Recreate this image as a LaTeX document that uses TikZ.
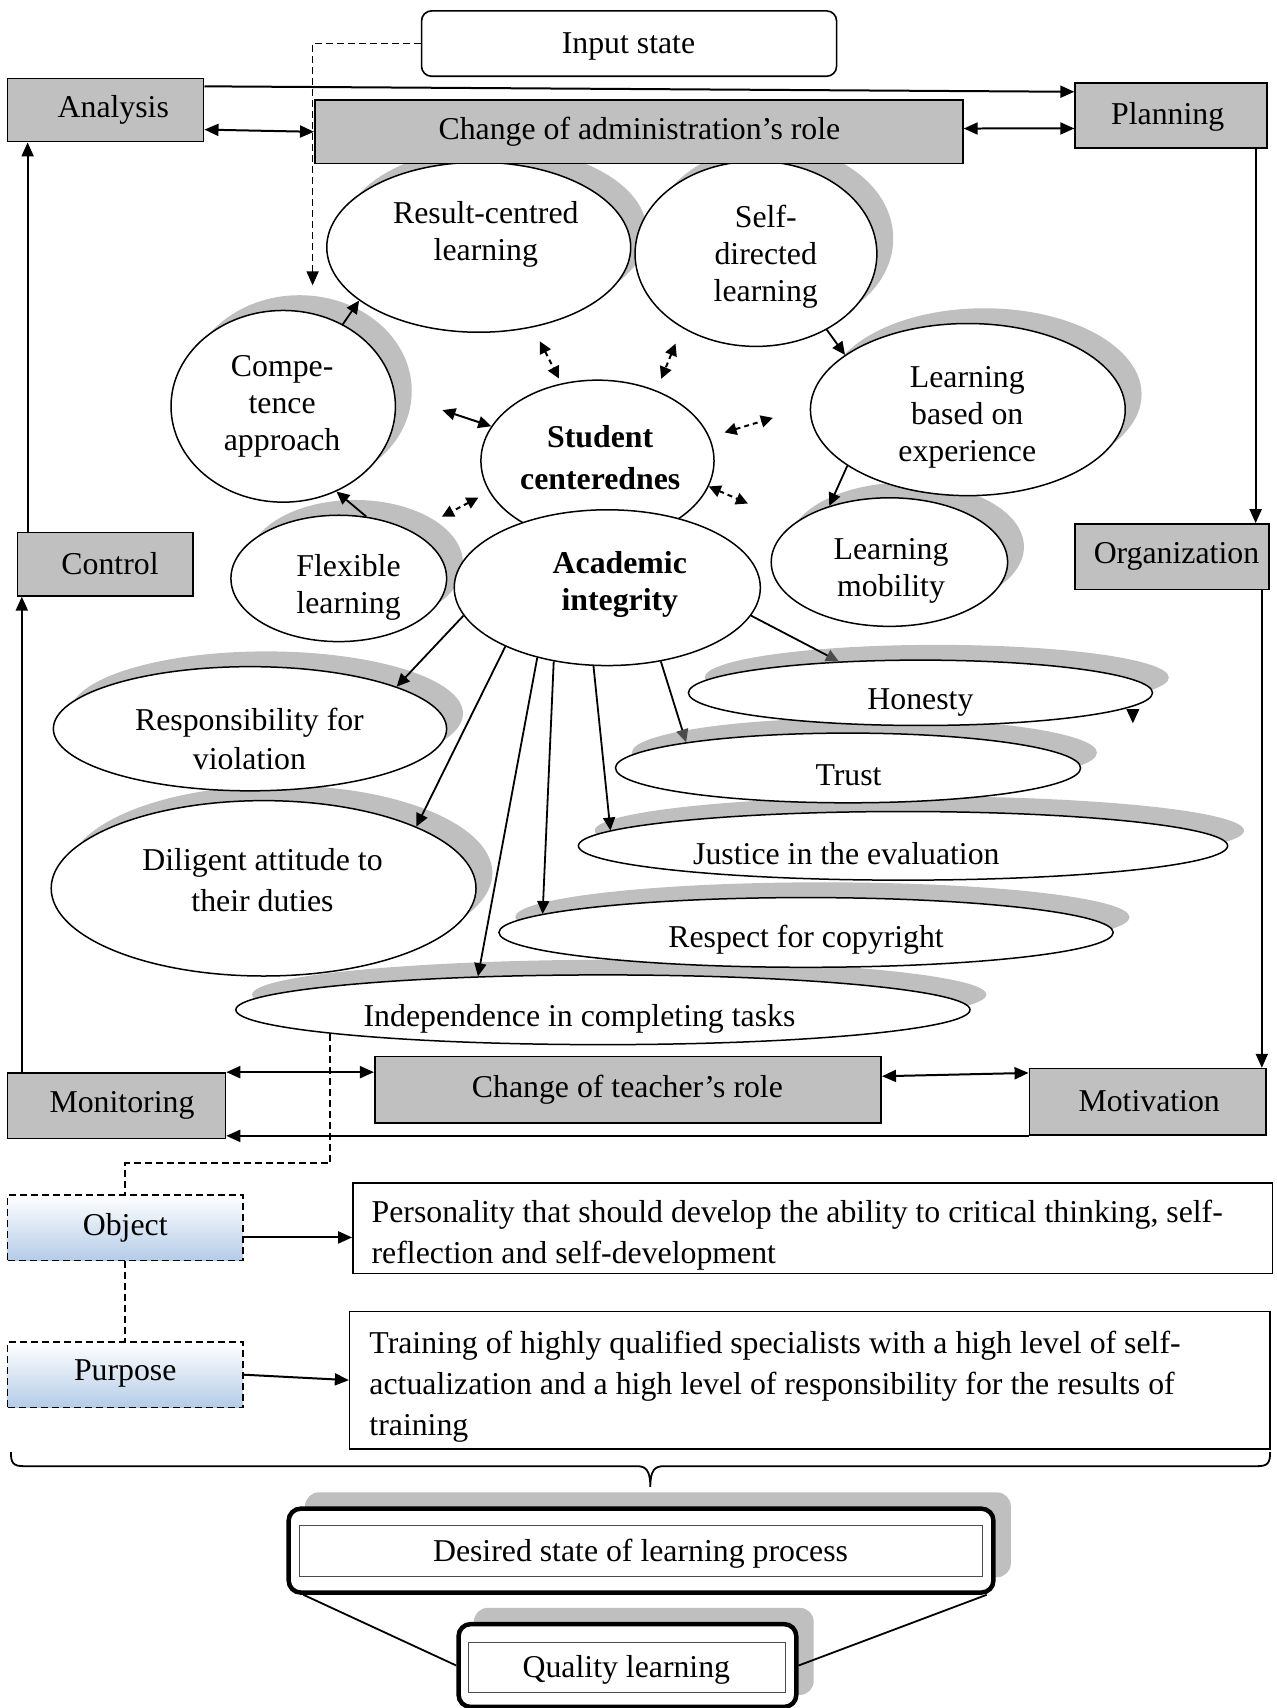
\documentclass[tikz,border=0pt]{standalone}
\usepackage{fontspec}
\setmainfont{Liberation Serif}
\usetikzlibrary{arrows.meta,shapes.geometric,fit}
\definecolor{boxgray}{HTML}{C0C0C0}
\definecolor{shgray}{HTML}{BFBFBF}
\definecolor{lblue}{HTML}{B4CCE8}
\begin{document}
\begin{tikzpicture}[x=1.0896pt, y=-1.0896pt, font=\fontsize{31.8}{37}\selectfont,
 gbox/.style={draw, fill=boxgray, line width=1.6pt, inner sep=0pt},
 wbox/.style={draw, fill=white, line width=1.6pt, inner sep=0pt},
 dpat/.style={dash pattern=on 7pt off 4pt},
 obox/.style={draw, dpat, line width=1.5pt, top color=white, bottom color=lblue, inner sep=0pt},
 ell/.style 2 args={ellipse, draw, fill=white, line width=1.5pt, inner sep=0pt, minimum width={#1*1.0896pt}, minimum height={#2*1.0896pt}},
 shd/.style 2 args={ellipse, fill=shgray, inner sep=0pt, minimum width={#1*1.0896pt}, minimum height={#2*1.0896pt}},
 lbl/.style={align=center, inner sep=0pt},
 ptext/.style={align=left, inner sep=0pt, font=\fontsize{31.8}{41.4}\selectfont},
 conn/.style={line width=2pt, -{Triangle[length=14pt,width=12pt]}},
 dconn/.style={line width=2pt, {Triangle[length=14pt,width=12pt]}-{Triangle[length=14pt,width=12pt]}},
 sconn/.style={line width=1.8pt, -{Triangle[length=13pt,width=12pt]}},
 gsconn/.style={line width=1.8pt, -{Triangle[length=13pt,width=12pt,color=black!70]}},
 sdconn/.style={line width=2pt, {Triangle[length=13pt,width=12pt]}-{Triangle[length=13pt,width=12pt]}},
 ddconn/.style={line width=2pt, dash pattern=on 5pt off 4pt, {Triangle[length=12pt,width=12pt]}-{Triangle[length=12pt,width=12pt]}}
]
\useasboundingbox (0,0) rectangle (1172,1568);

% shadows of ellipses
\node[shd={279}{156}] (rcS) at (454.5,213) {};
\node[shd={222}{170}] (sdS) at (709,219) {};
\node[shd={206}{176}] (cS) at (275,359) {};
\node[shd={289}{158}] (leS) at (903.5,362) {};
\node[shd={198}{116}] (fS) at (326,517) {};
\node[shd={217}{118}] (lmS) at (831.5,502) {};
\node[shd={426}{60}] (hS) at (860,622) {};
\node[shd={427}{64}] (tS) at (793.5,691) {};
\node[shd={596}{63}] (jS) at (844,762.5) {};
\node[shd={564}{64}] (rsS) at (755,842) {};
\node[shd={674}{64}] (iS) at (568.5,913) {};
\node[shd={361}{114}] (rS) at (244.5,655) {};
\node[shd={390}{161}] (dS) at (257,801.5) {};

% ellipses
\node[ell={279}{156}] (rc) at (439.5,227) {};
\node[ell={222}{170}] (sd) at (694,233) {};
\node[ell={206}{176}] (comp) at (260,373) {};
\node[ell={289}{158}] (le) at (888.5,376) {};
\node[ell={214}{148}] (stud) at (548.5,423) {};
\node[ell={198}{116}] (flex) at (311,531) {};
\node[ell={281}{143}] (acad) at (557.5,539.5) {};
\node[ell={217}{118}] (lm) at (816.5,516) {};
\node[ell={426}{60}] (hon) at (845,636) {};
\node[ell={427}{64}] (trust) at (778.5,705) {};
\node[ell={596}{63}] (just) at (829,776.5) {};
\node[ell={564}{64}] (resp) at (740,856) {};
\node[ell={674}{64}] (indep) at (553.5,927) {};
\node[ell={361}{114}] (respv) at (229.5,669) {};
\node[ell={390}{161}] (dil) at (242,815.5) {};

% ellipse texts
\node[lbl] (rct) at (446,215) {Result-centred\\learning};
\node[lbl] (sdt) at (703,236) {Self-\\directed\\learning};
\node[lbl] (compt) at (259,373) {Compe-\\tence\\approach};
\node[lbl] (let) at (888,383) {Learning\\based on\\experience};
\node[lbl, font=\bfseries\fontsize{31.8}{42.5}\selectfont] (studt) at (551,420) {Student\\centerednes};
\node[lbl] (flext) at (320,539) {Flexible\\learning};
\node[lbl, font=\bfseries\fontsize{31.8}{37}\selectfont] (acadt) at (569,537) {Academic\\integrity};
\node[lbl] (lmt) at (818,524) {Learning\\mobility};
\node[lbl] (hont) at (845,645) {Honesty};
\node[lbl] (trustt) at (779,712) {Trust};
\node[lbl] (justt) at (777,784) {Justice in the evaluation};
\node[lbl] (respt) at (740,863) {Respect for copyright};
\node[lbl] (indept) at (532,935) {Independence in completing tasks};
\node[lbl, font=\fontsize{31.8}{39}\selectfont] (respvt) at (229,678) {Responsibility for\\violation};
\node[lbl, font=\fontsize{31.8}{41.4}\selectfont] (dilt) at (241,808) {Diligent attitude to\\their duties};

% rectangles
\node[wbox, rounded corners=10pt, fit={(387,10) (768,70)}] (input) {};
\node[gbox, fit={(7,72) (187,130)}] (analysis) {};
\node[gbox, fit={(987,76) (1163,136)}] (planning) {};
\node[gbox, fit={(289,92) (884,150)}] (admin) {};
\node[gbox, fit={(16,489) (177,547)}] (control) {};
\node[gbox, fit={(987,481) (1165,541)}] (org) {};
\node[gbox, fit={(7,985) (207,1045)}] (mon) {};
\node[gbox, fit={(344,970) (809,1031)}] (teacher) {};
\node[gbox, fit={(945,981) (1162,1042)}] (motiv) {};
\node[obox, fit={(7,1097) (223,1157)}] (object) {};
\node[obox, fit={(7,1232) (223,1292)}] (purpose) {};
\node[wbox, fit={(324,1086) (1168,1169)}] (pers) {};
\node[wbox, fit={(321,1204) (1166,1330)}] (train) {};

\node[lbl] (inputt) at (577,43) {Input state};
\node[lbl] (analysist) at (104,101) {Analysis};
\node[lbl] (planningt) at (1072,107) {Planning};
\node[lbl] (admint) at (587,121) {Change of administration’s role};
\node[lbl] (controlt) at (101,517) {Control};
\node[lbl] (orgt) at (1080,511) {Organization};
\node[lbl] (mont) at (112,1015) {Monitoring};
\node[lbl] (teachert) at (576,1000) {Change of teacher’s role};
\node[lbl] (motivt) at (1055,1011) {Motivation};
\node[lbl] (objectt) at (115,1127) {Object};
\node[lbl] (purposet) at (115,1261) {Purpose};
\node[ptext, anchor=west] (perst) at (341,1134) {Personality that should develop the ability to critical thinking, self-\\reflection and self-development};
\node[ptext, anchor=west] (traint) at (339,1273) {Training of highly qualified specialists with a high level of self-\\actualization and a high level of responsibility for the results of\\training};

% desired / quality
\node[fill=shgray, rounded corners=14pt, inner sep=0pt, fit={(280,1370) (928,1448)}] (desiredsh) {};
\node[draw, line width=4.5pt, fill=white, rounded corners=12pt, inner sep=0pt, fit={(265,1385) (912,1462)}] (desired) {};
\node[draw=black!70, line width=0.8pt, inner sep=0pt, fit={(275,1400) (902,1447)}] (desiredin) {};
\node[lbl] (desiredt) at (588,1426) {Desired state of learning process};
\node[fill=shgray, rounded corners=14pt, inner sep=0pt, fit={(435,1476) (747,1556)}] (qualitysh) {};
\node[draw, line width=4.5pt, fill=white, rounded corners=12pt, inner sep=0pt, fit={(421,1491) (731,1567)}] (quality) {};
\node[draw=black!70, line width=0.8pt, inner sep=0pt, fit={(430,1508) (721,1554)}] (qualityin) {};
\node[lbl] (qualityt) at (575,1533) {Quality learning};

% frame connectors
\draw[conn] ([yshift=-8.7pt]analysis.north east) -- ([yshift=-9.8pt]planning.north west);
\draw[dconn] ([yshift=-19.6pt]analysis.east) -- (admin.west);
\draw[dconn] ([yshift=3.3pt]admin.east) -- ([yshift=-13pt]planning.west);
\draw[conn] ([xshift=-12pt]planning.south east) -- ([xshift=-12pt]planning.south east |- org.north);
\draw[conn] ([xshift=-8pt]org.south east) -- ([xshift=-8pt]org.south east |- motiv.north);
\draw[conn] (motiv.south west) -- (motiv.south west -| mon.east);
\draw[dconn] (mon.north east) -- (mon.north east -| teacher.west);
\draw[dconn] ([yshift=13.6pt]teacher.east) -- ([yshift=28.9pt]motiv.west);
\draw[conn] ([xshift=15pt]mon.north west) -- ([xshift=15pt]mon.north west |- control.south);
\draw[conn] ([xshift=11pt]control.north west) -- ([xshift=11pt]control.north west |- analysis.south);
\coordinate (dashend) at (287,262);
\draw[conn, dpat, line width=1.6pt] (input.west) -| (dashend);
\draw[dpat, line width=1.6pt] (indep.185.1) -- ++(0,119) -| (object.north);
\draw[dpat, line width=1.6pt] (object.south) -- (purpose.north);
\draw[conn] ([yshift=-9.8pt]object.east) -- ([yshift=-9.8pt]object.east -| pers.west);
\draw[conn] (purpose.east) -- (train.west);

% academic integrity arrows
\draw[sconn] (acad.191.5) -- (respv.16.8);
\draw[sconn] (acad.210.7) -- (dil.22.4);
\draw[sconn] (acad.225.1) -- (indep.165.9);
\draw[sconn] (acad.234.1) -- (resp.176.8);
\draw[sconn] (acad.260.8) -- (just.177.7);
\draw[gsconn] (acad.306.5) -- (trust.171.4);
\draw[gsconn] (acad.349) -- (hon.159.8);

% inner circle arrows
\draw[sconn] (comp.54.9) -- (rc.204.8);
\draw[sconn] (flex.66) -- (comp.302.3);
\draw[sconn] (sd.313.3) -- (le.156.2);
\draw[sconn] (le.205.2) -- (lm.137.6);
\draw[sdconn, shorten <=49.6pt] (comp.6.2) -- (stud.162.9);
\draw[ddconn, shorten <=15.7pt, shorten >=5.5pt] (rc.304.5) -- (stud.115.3);
\draw[ddconn, shorten <=17pt, shorten >=12.6pt] (sd.225.6) -- (stud.50.7);
\draw[ddconn, shorten <=15.6pt, shorten >=38.5pt] (stud.12.8) -- (le.179);
\draw[ddconn, shorten <=12pt, shorten >=32.4pt] (stud.196.4) -- (flex.32.1);
\draw[ddconn, shorten >=50pt] (stud.347.5) -- (lm.158.9);
\fill (1034,651) -- (1046,651) -- (1040,664) -- cycle;

% brace
\draw[line width=1.8pt] (10,1333) .. controls (10,1343) and (12,1346) .. (22,1346) -- (585,1346) .. controls (593,1346) and (597,1350) .. (597,1365) .. controls (597,1350) and (601,1346) .. (609,1346) -- (1154,1346) .. controls (1164,1346) and (1166,1343) .. (1166,1333);

% desired - quality lines
\draw[line width=1.8pt] ([xshift=17pt]desired.south west) -- (quality.west);
\draw[line width=1.8pt] ([xshift=-9pt]desired.south east) -- (quality.east);
\end{tikzpicture}
\end{document}
